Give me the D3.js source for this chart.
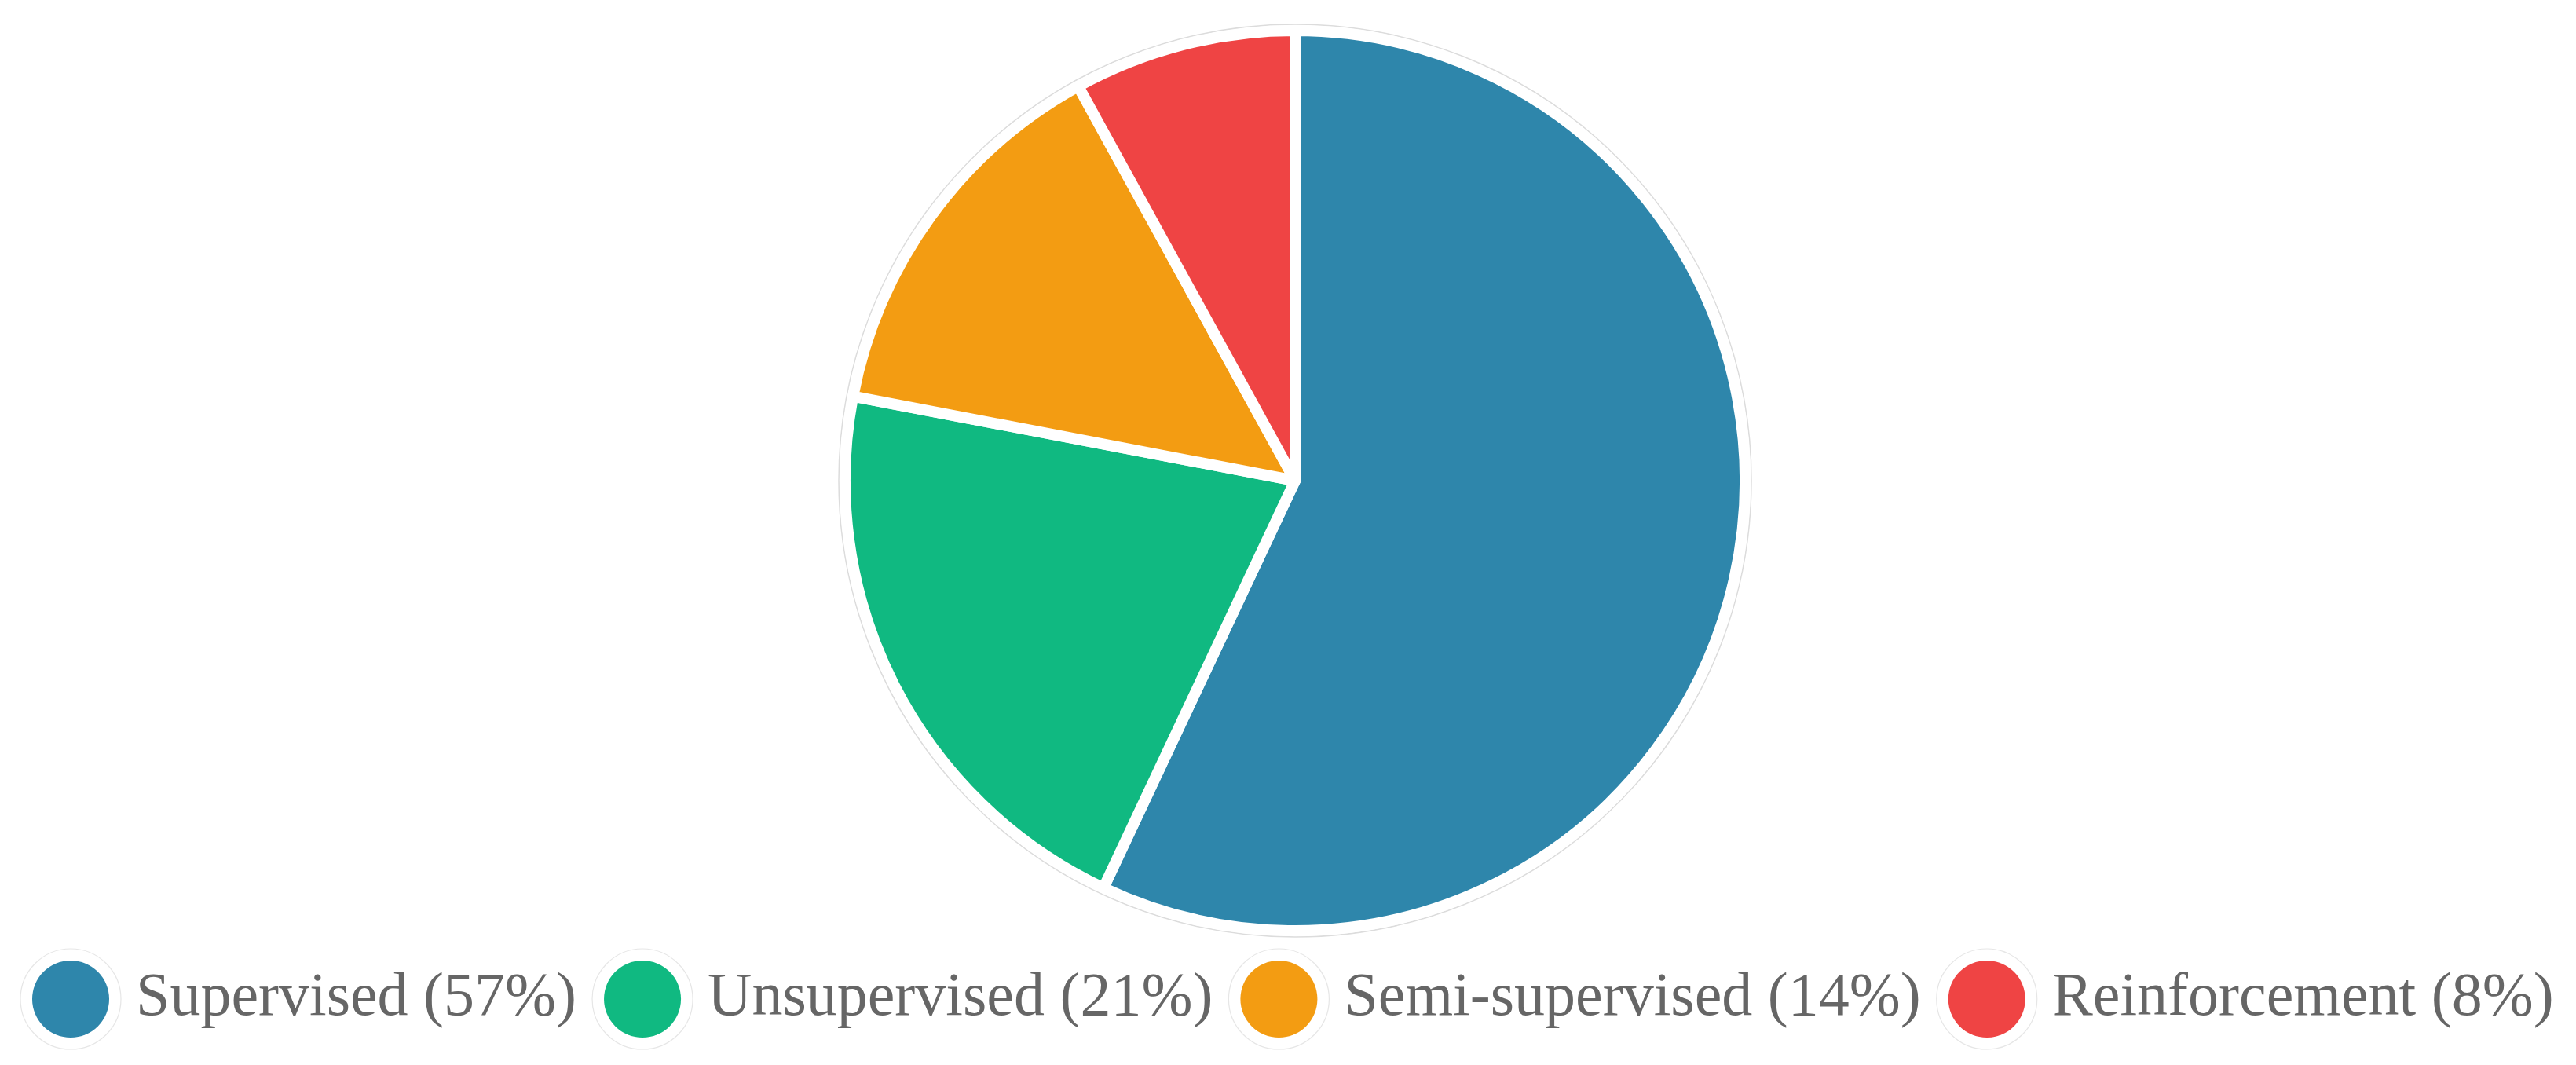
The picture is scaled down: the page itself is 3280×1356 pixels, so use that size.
<!DOCTYPE html>
<html>
<head>
<meta charset="utf-8">
<script src="https://cdn.jsdelivr.net/npm/d3@7"></script>
<style>
  html, body { margin: 0; padding: 0; background: #ffffff; }
  svg { display: block; }
</style>
</head>
<body>
<svg id="chart" width="3280" height="1356"></svg>
<script>
const categories = ["Supervised", "Unsupervised", "Semi-supervised", "Reinforcement"];
const values = [57, 21, 14, 8];
const colors = ["#2E86AB", "#10B981", "#F39C12", "#EF4444"];

const W = 3280, H = 1356;
const cx = 1649, cy = 612;
const outerR = 573;

const svg = d3.select("#chart");

const pie = d3.pie().sort(null).value(d => d).startAngle(0).endAngle(2 * Math.PI);
const arc = d3.arc().innerRadius(0).outerRadius(outerR);

const g = svg.append("g").attr("transform", `translate(${cx},${cy})`);

// faint shadow ring
g.append("circle")
  .attr("r", outerR + 8)
  .attr("fill", "none")
  .attr("stroke", "#dcdcdc")
  .attr("stroke-width", 1.5);

g.selectAll("path.slice")
  .data(pie(values))
  .join("path")
  .attr("class", "slice")
  .attr("d", arc)
  .attr("fill", (d, i) => colors[i])
  .attr("stroke", "#ffffff")
  .attr("stroke-width", 14)
  .attr("stroke-linejoin", "round");

// Legend
const legendY = 1272;
const markerR = 49;
const gapToText = 83;
const gapAfterText = 84;
const fontSize = 78;
const fontFamily = "'Times New Roman', 'Liberation Serif', serif";

const legend = svg.append("g");
const items = categories.map((c, i) => `${c} (${values[i]}%)`);

let x = 90;
items.forEach((t, i) => {
  const item = legend.append("g");
  item.append("circle")
    .attr("cx", x).attr("cy", legendY)
    .attr("r", markerR + 15)
    .attr("fill", "none")
    .attr("stroke", "#e6e6e6")
    .attr("stroke-width", 1.2);
  item.append("circle")
    .attr("cx", x).attr("cy", legendY)
    .attr("r", markerR)
    .attr("fill", colors[i]);
  const txt = item.append("text")
    .attr("x", x + gapToText)
    .attr("y", 1292)
    .attr("font-family", fontFamily)
    .attr("font-size", fontSize)
    .attr("fill", "#666666")
    .text(t);
  const w = txt.node().getComputedTextLength();
  x = x + gapToText + w + gapAfterText;
});
</script>
</body>
</html>
